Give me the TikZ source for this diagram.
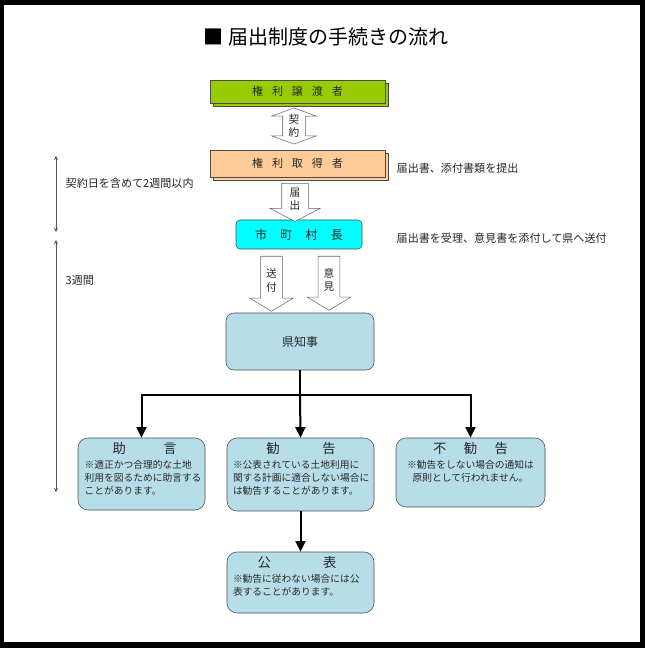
\documentclass[tikz,border=0pt]{standalone}
\usepackage{fontspec}
\setmainfont{Noto Sans CJK JP}
\usepackage{xcolor}
\usepackage{tikz}
\usetikzlibrary{arrows.meta, positioning, shapes.arrows, shadows}

\definecolor{jotogreen}{HTML}{99CC00}
\definecolor{shutokuorange}{HTML}{FFCC99}
\definecolor{shichosoncyan}{HTML}{00FFFF}
\definecolor{cardblue}{HTML}{B7DEE8}
\newcommand{\kgap}{\hspace{.8em}}
\newcommand{\cardhead}{\fontsize{10}{12}\selectfont}

\begin{document}
\begin{tikzpicture}[
    x=0.75pt, y=-0.75pt,
    every node/.style={font=\fontsize{8.3}{10}\selectfont, text=black!85},
    actorbox/.style={draw=black!70, minimum width=131.25pt, inner sep=0pt, copy shadow={shadow xshift=2.25pt, shadow yshift=-2.25pt}},
    roundbox/.style={draw=black!70, inner sep=0pt},
    card/.style={draw=black!70, fill=cardblue, rounded corners=7.5pt, inner sep=0pt},
    cardtext/.style={inner sep=0pt, align=left, font=\fontsize{7.3}{9.75}\selectfont},
    blockdown/.style={draw=black!60, fill=white, single arrow, shape border rotate=270, single arrow head extend=8.25pt, single arrow tip angle=118, inner ysep=1pt, align=center, font=\fontsize{8}{10}\selectfont},
    conn/.style={line width=1.5pt, -{Triangle[length=8pt, width=7.5pt]}},
    timespan/.style={draw=black!65, line width=0.6pt, {Stealth[length=3pt, width=3pt]}-{Stealth[length=3pt, width=3pt]}}
]
    \fill[black] (0,0) rectangle (645,648);
    \fill[white] (4,5) rectangle (640,642);
    \useasboundingbox (0,0) rectangle (645,648);

    \node[font=\fontsize{15}{18}\selectfont, text=black] (title) at (326,37) {■ 届出制度の手続きの流れ};

    \node[actorbox, fill=jotogreen, minimum height=17.25pt] (joto) at (297.5,91.5) {権\kgap 利\kgap 譲\kgap 渡\kgap 者};
    \node[actorbox, fill=shutokuorange, minimum height=20.25pt] (shutoku) at (297.5,163.5) {権\kgap 利\kgap 取\kgap 得\kgap 者};
    \node[roundbox, fill=shichosoncyan, rounded corners=3pt, minimum width=94.5pt, minimum height=21.75pt, font=\fontsize{9}{11}\selectfont] (shichoson) at (299,234.5) {市\hspace{1.1em}町\hspace{1.1em}村\hspace{1.1em}長};
    \node[roundbox, fill=cardblue, rounded corners=6pt, minimum width=111pt, minimum height=42.75pt, font=\fontsize{9}{11}\selectfont] (kenchiji) at (300,341.5) {県知事};

    \node[draw=black!60, fill=white, double arrow, shape border rotate=90, double arrow head extend=8.25pt, double arrow tip angle=140, minimum height=27pt, inner xsep=4.25pt, inner ysep=1pt, align=center, font=\fontsize{8}{10}\selectfont] (keiyaku) at (294,126) {契\\約};
    \node[blockdown, single arrow head extend=9pt, single arrow tip angle=125, minimum height=28.5pt, inner xsep=5.75pt] (todokede) at (295,199) {届\\出};
    \node[blockdown, minimum height=41.25pt, inner xsep=3.9pt] (sofu) at (271.5,280.5) {送\\付};
    \node[blockdown, minimum height=40.5pt, inner xsep=3.9pt] (iken) at (329,280) {意\\見};

    \node[anchor=west] (teishutsu) at (392,168) {届出書、添付書類を提出};
    \node[anchor=west] (juri) at (392,238) {届出書を受理、意見書を添付して県へ送付};

    \coordinate (limit-top) at (56,156);
    \coordinate (limit-bot) at (56,232);
    \coordinate (term-top) at (56,240);
    \coordinate (term-bot) at (56,492);
    \draw[timespan] (limit-top) -- (limit-bot);
    \draw[timespan] (term-top) -- (term-bot);
    \node[anchor=west] (limit) at (61,183) {契約日を含めて2週間以内};
    \node[anchor=west] (term) at (61,280) {3週間};

    \node[card, minimum width=95.25pt, minimum height=54pt] (jogen) at (141.5,474) {};
    \node[card, minimum width=110.25pt, minimum height=54.75pt] (kankoku) at (300.5,474.5) {};
    \node[card, minimum width=111.75pt, minimum height=51.75pt] (fukankoku) at (470.5,472.5) {};
    \node[card, minimum width=110.25pt, minimum height=45.75pt] (kohyo) at (300.5,582.5) {};

    \node[cardtext, text width=90pt, anchor=north west] (jogen-txt) at ([shift={(5pt,-3pt)}]jogen.north west)
        {\makebox[90pt]{\cardhead 助\hspace{2.8em}言}\\[1.5pt]
         ※適正かつ合理的な土地\\利用を図るために助言する\\ことがあります。};
    \node[cardtext, text width=102pt, anchor=north west] (kankoku-txt) at ([shift={(4.5pt,-3pt)}]kankoku.north west)
        {\makebox[102pt]{\cardhead 勧\hspace{3.2em}告}\\[1.5pt]
         ※公表されている土地利用に\\関する計画に適合しない場合に\\は勧告することがあります。};
    \node[cardtext, text width=102pt, align=center, anchor=north] (fukankoku-txt) at ([yshift=-3pt]fukankoku.north)
        {{\cardhead 不\hspace{1.3em}勧\hspace{1.3em}告}\\[1.5pt]
         ※勧告をしない場合の通知は\\原則として行われません。};
    \node[cardtext, text width=102pt, anchor=north west] (kohyo-txt) at ([shift={(4.5pt,-3pt)}]kohyo.north west)
        {\makebox[96pt]{\cardhead 公\hspace{3.9em}表}\\[1.5pt]
         ※勧告に従わない場合には公\\表することがあります。};

    \coordinate (split) at (300,395);
    \draw[line width=1.5pt] (kenchiji.south) -- (split);
    \draw[conn] (split) -| (jogen.north);
    \draw[conn] (split) -- (kankoku.north);
    \draw[conn] (split) -| (fukankoku.north);
    \draw[conn] (kankoku.south) -- (kohyo.north);
\end{tikzpicture}
\end{document}
